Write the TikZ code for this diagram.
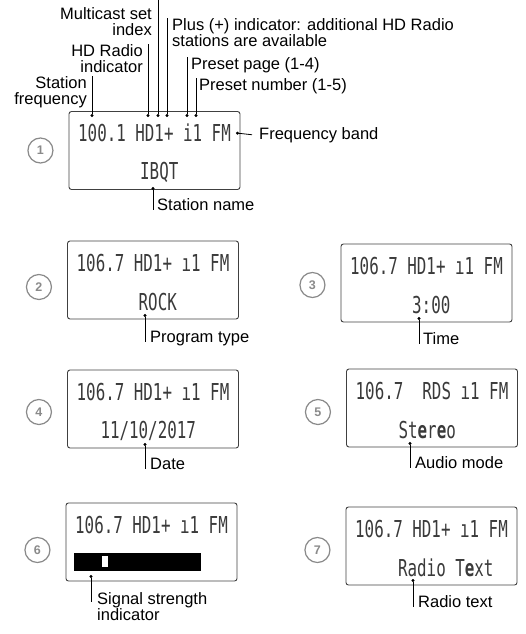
\documentclass[tikz,border=0pt]{standalone}
\usepackage{fontspec}
\setmainfont{Liberation Sans}
\newfontfamily\lcdfont[FakeStretch=0.68]{DejaVu Sans Mono}
\usetikzlibrary{arrows.meta, positioning}
\definecolor{lcdink}{HTML}{3A3A3A}
\definecolor{badgegray}{HTML}{8A8A8A}
\tikzset{
  lcdbox/.style={draw=black!75, line width=0.9pt, rounded corners=2.5pt,
                 minimum width=171pt, minimum height=78pt, inner sep=0pt},
  lcdline/.style={font=\lcdfont\fontsize{23.3}{24}\selectfont, text=lcdink, inner sep=0pt},
  badge/.style={circle, draw=badgegray, line width=1.2pt, minimum size=25pt, inner sep=0pt,
                font=\bfseries\fontsize{12.5}{13}\selectfont, text=badgegray},
  callout/.style={font=\fontsize{16.5}{16}\selectfont, inner sep=0pt},
  leader/.style={{Circle[length=3pt]}-, line width=0.8pt, draw=black},
}

\begin{document}
\begin{tikzpicture}[x=1pt, y=-1pt, node distance=15pt]
  \useasboundingbox (0,0) rectangle (525,634);
  \coordinate (topedge) at (0,0);

  \foreach \n/\x/\y in {1/154.5/150.5, 2/153/280, 3/426.5/283, 4/153/409,
                        5/432/408, 6/151.5/542, 7/431.5/546} {
    \node[lcdbox] (lcd\n) at (\x,\y) {};
  }
  \foreach \n/\dy in {1/0, 2/7, 3/2, 4/3, 5/4, 6/8, 7/4} {
    \node[badge, left=of lcd\n, yshift=-\dy pt] (b\n) {\n};
  }

  \node[lcdline] (l1a) at ([yshift=-22pt]lcd1.north) {100.1 HD1+ i1 FM};
  \foreach \n in {2,3,4,6,7} {
    \node[lcdline] (l\n a) at ([yshift=-22pt]lcd\n.north) {106.7 HD1+ ı1 FM};
  }
  \node[lcdline] (l5a) at ([yshift=-22pt]lcd5.north) {106.7~~RDS ı1 FM};

  \node[lcdline] (l1b) at ([yshift=-61pt]lcd1.north) {~~~~~~IBQT~~~~~~};
  \node[lcdline] (l2b) at ([yshift=-61pt]lcd2.north) {~~~~~~ROCK~~~~~~};
  \node[lcdline] (l3b) at ([yshift=-61pt]lcd3.north) {~~~~~~3:00~~~~~~};
  \node[lcdline] (l4b) at ([yshift=-61pt]lcd4.north) {~~11/10/2017~~~~};
  \node[lcdline] (l5b) at ([yshift=-61pt]lcd5.north) {~~~~St\textbf{e}r\textbf{e}o~~~~~~};
  \node[lcdline] (l7b) at ([yshift=-61pt]lcd7.north) {~~~~Radio~T\textbf{e}xt~~};

  \fill[black] ([shift={(8pt,-50pt)}]lcd6.north west) rectangle ++(127,18);
  \fill[white] ([shift={(36pt,-53pt)}]lcd6.north west) rectangle ++(6,11);

  \node[callout, align=right, anchor=north east] (sfreq) at (87,76) {Station\\frequency};
  \node[callout, align=right, anchor=north east] (hdri) at (143,44) {HD Radio\\indicator};
  \node[callout, align=right, anchor=north east] (mcast) at (152,7) {Multicast set\\index};
  \node[callout, align=left, anchor=north west] (plus) at (172,18)
    {Plus (+) indicator: additional HD Radio\\stations are available};
  \node[callout, anchor=north west] (ppage) at (191,57) {Preset page (1-4)};
  \node[callout, anchor=north west] (pnum) at (199,78) {Preset number (1-5)};
  \node[callout, anchor=base west] (fband) at (259,139) {Frequency band};
  \node[callout, anchor=base west] (sname) at (157,210) {Station name};
  \node[callout, anchor=base west] (ptype) at (150,342) {Program type};
  \node[callout, anchor=base west] (time) at (423,344) {Time};
  \node[callout, anchor=base west] (date) at (150,469) {Date};
  \node[callout, anchor=base west] (amode) at (415,468) {Audio mode};
  \node[callout, align=left, anchor=north west] (sigs) at (97,592) {Signal strength\\indicator};
  \node[callout, anchor=base west] (rtext) at (418,607) {Radio text};

  \coordinate (sfdot) at (92,117);
  \coordinate (hddot) at (148,117);
  \coordinate (mcdot) at (158,117);
  \coordinate (pldot) at (167,117);
  \coordinate (ppdot) at (187,117);
  \coordinate (pndot) at (196,117);
  \coordinate (fbdot) at (236,133);
  \coordinate (sndot) at (153,187);
  \coordinate (ptdot) at (145,314);
  \coordinate (tmdot) at (419,317);
  \coordinate (dtdot) at (145,443);
  \coordinate (amdot) at (410,442);
  \coordinate (ssdot) at (91,575);
  \coordinate (rtdot) at (413,579);
  \coordinate (ssend) at (ssdot |- sigs.north);

  \foreach \d/\lab in {sfdot/sfreq, hddot/hdri, pldot/plus, ppdot/ppage, pndot/pnum} {
    \draw[leader] (\d) -- (\d |- \lab.north);
  }
  \draw[leader] (mcdot) -- (mcdot |- topedge);
  \draw[leader] (fbdot) -- ([xshift=-7pt]fband.west);
  \foreach \d/\lab in {sndot/sname, ptdot/ptype, tmdot/time, dtdot/date, amdot/amode, rtdot/rtext} {
    \draw[leader] (\d) -- (\d |- \lab.base);
  }
  \draw[leader] (ssdot) -- ([yshift=-10pt]ssend);
\end{tikzpicture}
\end{document}
